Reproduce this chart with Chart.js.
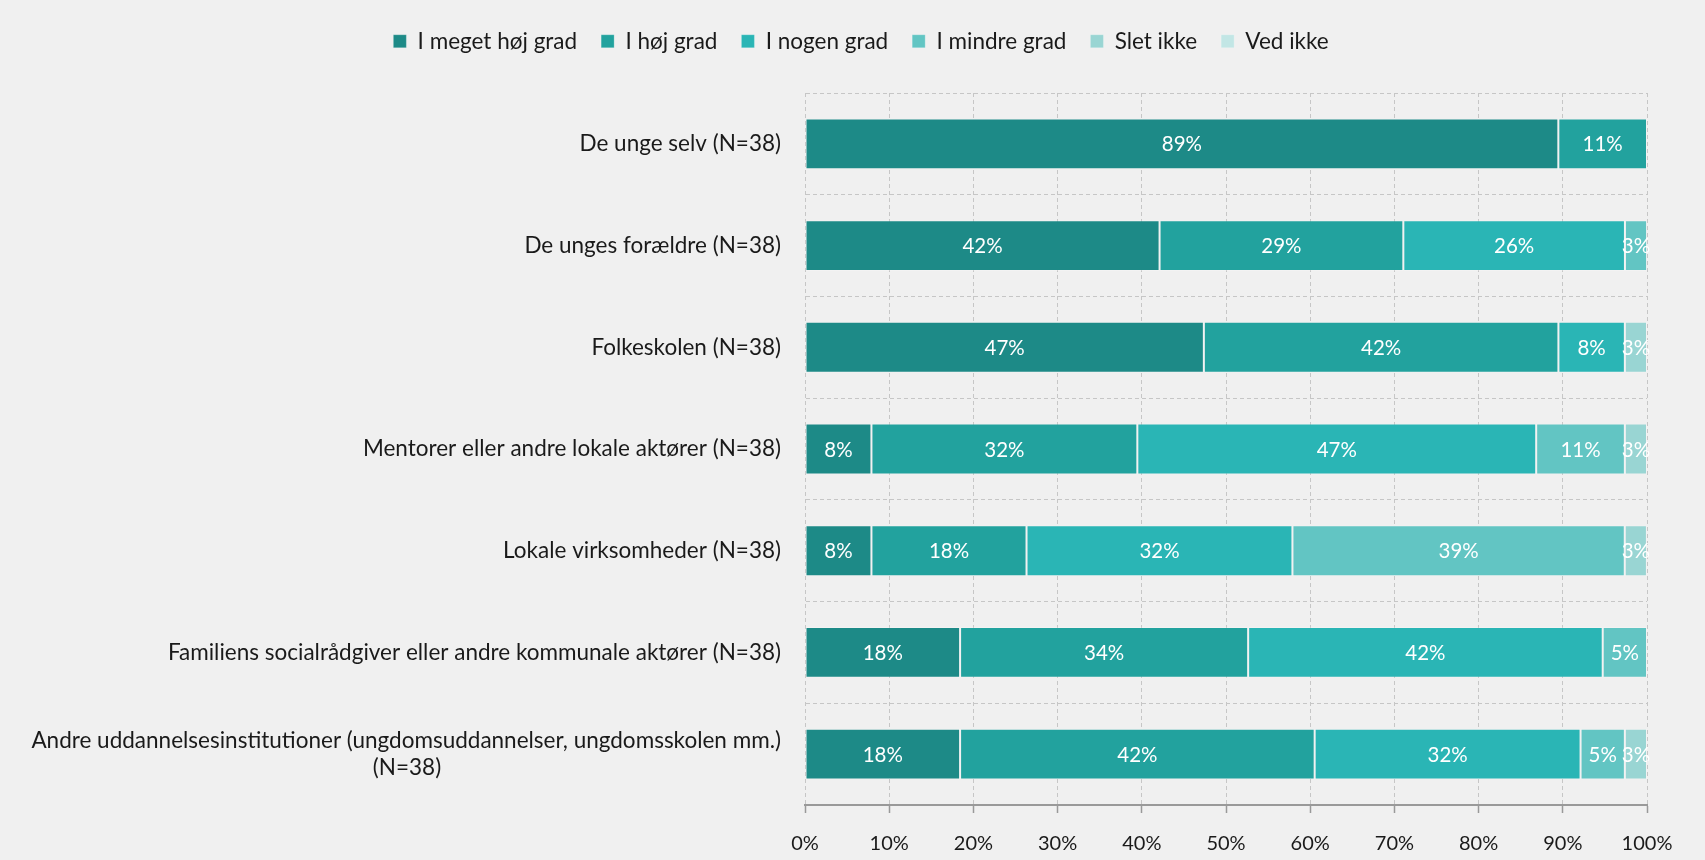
<!DOCTYPE html>
<html>
<head>
<meta charset="utf-8">
<script src="https://cdn.jsdelivr.net/npm/chart.js@4.4.0/dist/chart.umd.min.js"></script>
<style>
  html, body { margin: 0; padding: 0; background: #f0f0f0; }
  #wrap { width: 1705px; height: 860px; }
</style>
</head>
<body>
<div id="wrap"><canvas id="chart" width="1705" height="860"></canvas></div>
<script>
// Survey answers, share of respondents in percent (N=38 per row)
const categories = [
    'De unge selv (N=38)',
    'De unges forældre (N=38)',
    'Folkeskolen (N=38)',
    'Mentorer eller andre lokale aktører (N=38)',
    'Lokale virksomheder (N=38)',
    'Familiens socialrådgiver eller andre kommunale aktører (N=38)',
    ['Andre uddannelsesinstitutioner (ungdomsuddannelser, ungdomsskolen mm.)', '(N=38)']
];
const seriesNames = ['I meget høj grad', 'I høj grad', 'I nogen grad', 'I mindre grad', 'Slet ikke', 'Ved ikke'];
const veryHigh = [89.47, 42.11, 47.37, 7.89, 7.89, 18.42, 18.42];
const high     = [10.53, 28.95, 42.11, 31.58, 18.42, 34.21, 42.11];
const some     = [0, 26.32, 7.89, 47.37, 31.58, 42.11, 31.58];
const less     = [0, 2.63, 0, 10.53, 39.47, 5.26, 5.26];
const notAtAll = [0, 0, 2.63, 2.63, 2.63, 0, 2.63];
const dontKnow = [0, 0, 0, 0, 0, 0, 0];
const xTicks = ['0%', '10%', '20%', '30%', '40%', '50%', '60%', '70%', '80%', '90%', '100%'];

const colors = ['#1d8a87', '#22a29e', '#2ab5b5', '#62c5c3', '#99d5d3', '#c2e6e5'];
const FONT = 'Lato, "Open Sans", sans-serif';
const TEXT_SIZE = 22.5;

// center the "(N=38)" line under the long label by padding it with spaces
(function () {
    const c = document.createElement('canvas').getContext('2d');
    c.font = TEXT_SIZE + 'px ' + FONT;
    const last = categories[categories.length - 1];
    const gap = (c.measureText(last[0]).width - c.measureText(last[1]).width) / 2;
    const n = Math.round(gap / c.measureText(' ').width);
    last[1] = last[1] + ' '.repeat(Math.max(0, n));
})();

const valueLabels = {
    id: 'valueLabels',
    afterDatasetsDraw(chart) {
        const ctx = chart.ctx;
        ctx.save();
        ctx.font = '20.5px ' + FONT;
        ctx.fillStyle = '#ffffff';
        ctx.textAlign = 'center';
        ctx.textBaseline = 'middle';
        chart.data.datasets.forEach((ds, i) => {
            chart.getDatasetMeta(i).data.forEach((bar, j) => {
                const v = ds.data[j];
                if (!v) return;
                const p = bar.getCenterPoint();
                ctx.fillText(Math.round(v) + '%', p.x, p.y + 1);
            });
        });
        ctx.restore();
    }
};

// extra space under the legend, and shift its centre a bit to the right
const legendGap = {
    id: 'legendGap',
    beforeInit(chart) {
        const fit = chart.legend.fit;
        chart.legend.fit = function () {
            fit.bind(chart.legend)();
            this.height += 30.5;
        };
    },
    afterLayout(chart) {
        chart.legend.left = 75;
    }
};

const seriesData = [veryHigh, high, some, less, notAtAll, dontKnow];

new Chart(document.getElementById('chart'), {
    type: 'bar',
    data: {
        labels: categories,
        datasets: seriesNames.map((name, i) => ({
            label: name,
            data: seriesData[i],
            backgroundColor: colors[i],
            borderColor: 'rgba(255,255,255,0.22)',
            borderWidth: 1,
            borderSkipped: false,
            categoryPercentage: 1,
            barPercentage: 0.5
        }))
    },
    options: {
        indexAxis: 'y',
        responsive: false,
        animation: false,
        layout: { padding: { left: 0, right: 58, top: 6, bottom: 0 } },
        plugins: {
            legend: {
                position: 'top',
                labels: {
                    boxWidth: 13,
                    boxHeight: 13,
                    padding: 24,
                    color: '#1a1a1a',
                    font: { size: TEXT_SIZE, family: FONT }
                }
            },
            tooltip: { enabled: false }
        },
        scales: {
            x: {
                stacked: true,
                min: 0,
                max: 100,
                afterFit: s => { s.height = 55; },
                ticks: {
                    stepSize: 10,
                    padding: 19,
                    color: '#1a1a1a',
                    font: { size: 20, family: FONT },
                    callback: (v, i) => xTicks[i]
                },
                grid: {
                    color: '#c6c6c6',
                    tickLength: 8,
                    tickColor: '#999999',
                    tickWidth: 1.5,
                    tickBorderDash: []
                },
                border: { display: true, color: '#999999', width: 2, dash: [4, 3] }
            },
            y: {
                stacked: true,
                afterFit: s => { s.width = 805; },
                ticks: {
                    padding: 24,
                    color: '#1a1a1a',
                    font: { size: TEXT_SIZE, family: FONT }
                },
                grid: {
                    color: '#c6c6c6',
                    drawTicks: false,
                    offset: true
                },
                border: { display: true, color: 'rgba(0,0,0,0)', dash: [4, 3] }
            }
        }
    },
    plugins: [valueLabels, legendGap]
});
</script>
</body>
</html>
